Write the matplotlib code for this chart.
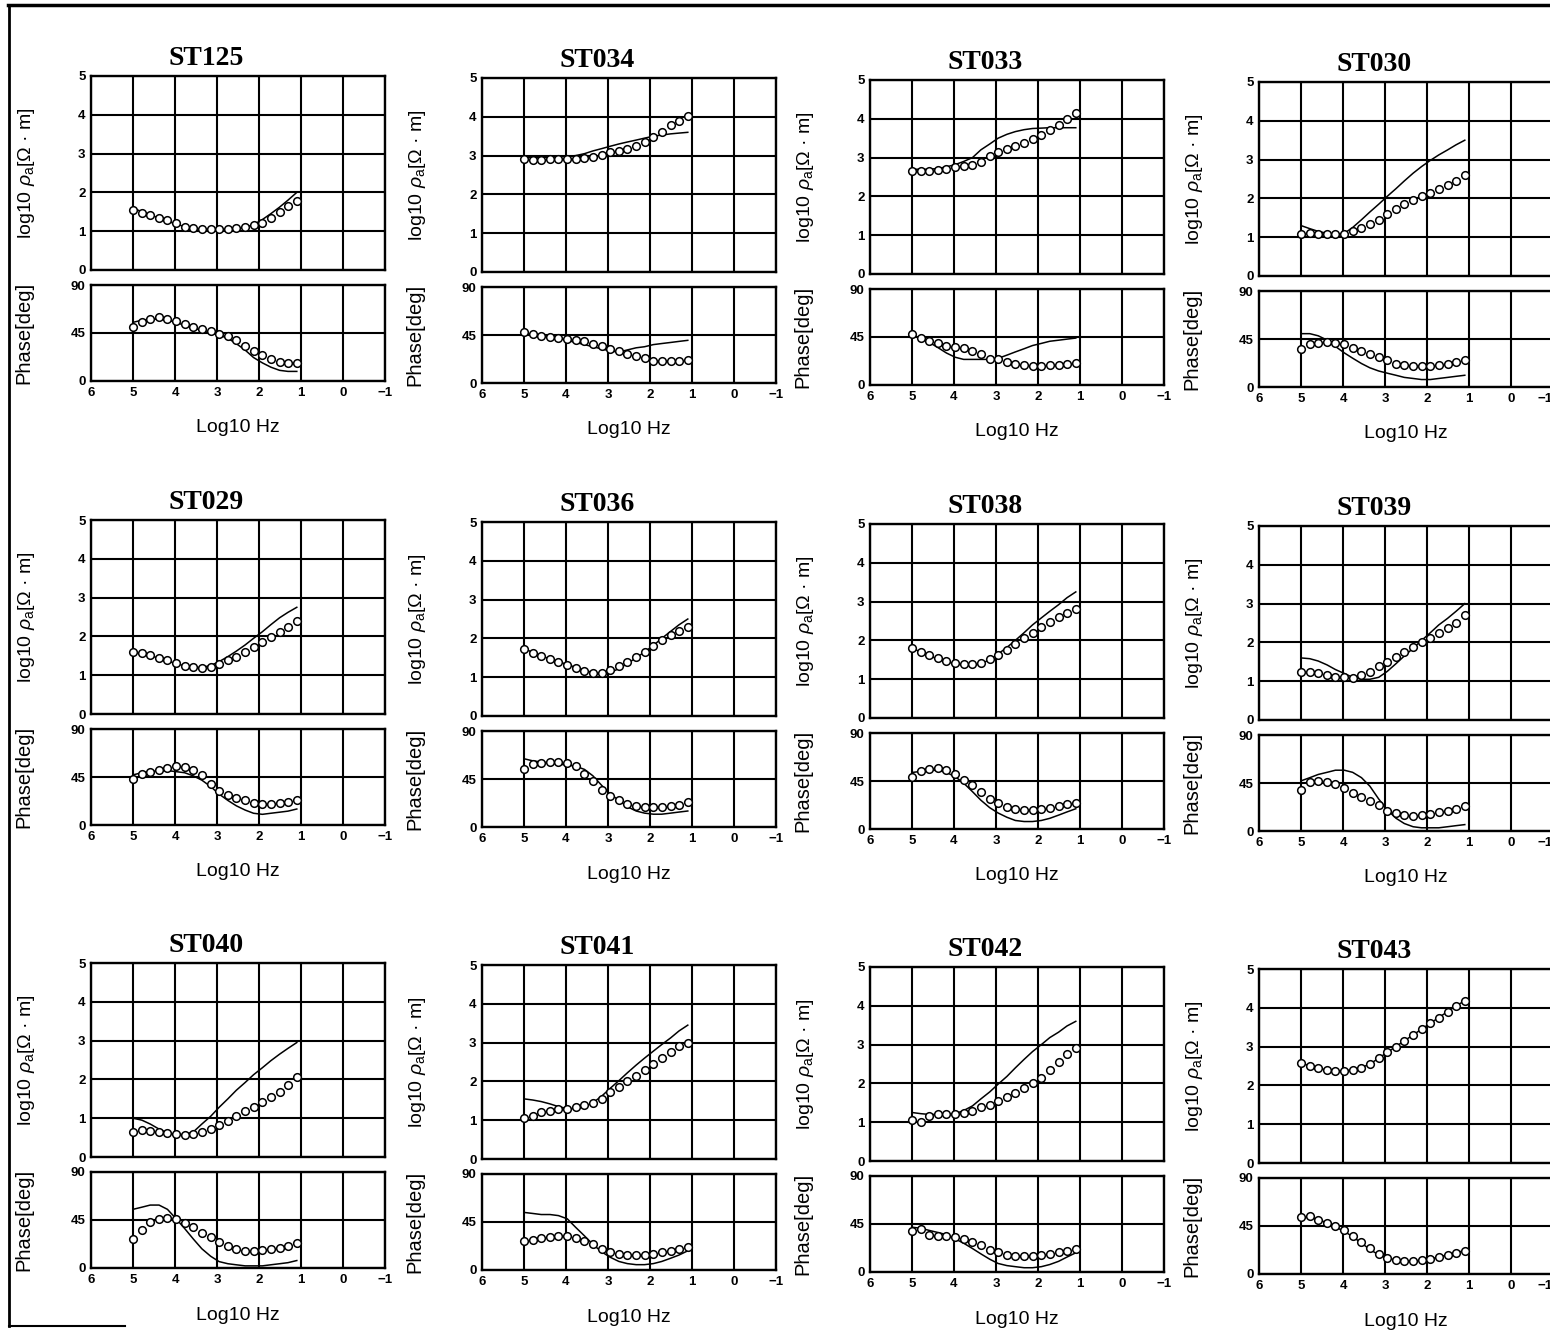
import matplotlib.pyplot as plt
from matplotlib.lines import Line2D

plt.rcParams['font.family'] = ['Liberation Sans', 'DejaVu Sans']
plt.rcParams['mathtext.fontset'] = 'custom'
plt.rcParams['mathtext.rm'] = 'Liberation Sans'
plt.rcParams['mathtext.it'] = 'Liberation Sans:italic'

# log10 frequency of each sounding point (Hz)
freq = [5.00, 4.79, 4.59, 4.38, 4.18, 3.97, 3.77, 3.56, 3.36, 3.15,
        2.95, 2.74, 2.54, 2.33, 2.13, 1.92, 1.72, 1.51, 1.31, 1.10]

stations = ['ST125', 'ST034', 'ST033', 'ST030',
            'ST029', 'ST036', 'ST038', 'ST039',
            'ST040', 'ST041', 'ST042', 'ST043']

# observed apparent resistivity, log10 ohm-m (circles)
rho_obs = [
    [1.55, 1.48, 1.42, 1.35, 1.28, 1.20, 1.12, 1.08, 1.06, 1.05, 1.05, 1.05, 1.07, 1.10, 1.15, 1.22, 1.35, 1.50, 1.65, 1.78],
    [2.90, 2.88, 2.88, 2.90, 2.90, 2.92, 2.92, 2.95, 2.97, 3.02, 3.08, 3.12, 3.18, 3.25, 3.35, 3.48, 3.62, 3.78, 3.90, 4.02],
    [2.65, 2.65, 2.65, 2.67, 2.70, 2.75, 2.78, 2.82, 2.88, 3.05, 3.15, 3.22, 3.30, 3.38, 3.48, 3.58, 3.70, 3.85, 4.00, 4.15],
    [1.08, 1.10, 1.08, 1.08, 1.08, 1.08, 1.15, 1.25, 1.35, 1.45, 1.60, 1.72, 1.85, 1.95, 2.05, 2.15, 2.25, 2.35, 2.45, 2.60],
    [1.60, 1.58, 1.52, 1.45, 1.38, 1.32, 1.25, 1.20, 1.18, 1.20, 1.28, 1.38, 1.48, 1.60, 1.72, 1.85, 1.98, 2.12, 2.25, 2.40],
    [1.72, 1.62, 1.55, 1.48, 1.40, 1.32, 1.25, 1.15, 1.10, 1.10, 1.18, 1.28, 1.40, 1.52, 1.65, 1.80, 1.95, 2.08, 2.20, 2.30],
    [1.80, 1.70, 1.62, 1.55, 1.48, 1.42, 1.38, 1.38, 1.42, 1.52, 1.62, 1.75, 1.90, 2.05, 2.20, 2.35, 2.48, 2.60, 2.70, 2.82],
    [1.25, 1.25, 1.20, 1.15, 1.12, 1.10, 1.08, 1.15, 1.25, 1.38, 1.50, 1.62, 1.75, 1.88, 2.00, 2.12, 2.25, 2.38, 2.50, 2.70],
    [0.65, 0.70, 0.68, 0.65, 0.62, 0.58, 0.57, 0.60, 0.65, 0.72, 0.82, 0.92, 1.05, 1.18, 1.30, 1.42, 1.55, 1.68, 1.85, 2.05],
    [1.05, 1.10, 1.20, 1.25, 1.30, 1.30, 1.35, 1.38, 1.45, 1.55, 1.72, 1.85, 2.02, 2.15, 2.30, 2.45, 2.60, 2.75, 2.90, 3.00],
    [1.05, 1.00, 1.15, 1.20, 1.22, 1.22, 1.25, 1.30, 1.38, 1.45, 1.55, 1.65, 1.75, 1.88, 2.00, 2.15, 2.35, 2.55, 2.75, 2.90],
    [2.58, 2.50, 2.45, 2.40, 2.38, 2.38, 2.40, 2.45, 2.55, 2.70, 2.85, 3.00, 3.15, 3.30, 3.45, 3.60, 3.75, 3.90, 4.05, 4.18],
]

# model response, log10 ohm-m (solid line)
rho_model = [
    [1.60, 1.50, 1.42, 1.34, 1.26, 1.18, 1.12, 1.08, 1.05, 1.03, 1.03, 1.04, 1.06, 1.10, 1.17, 1.30, 1.45, 1.62, 1.80, 2.00],
    [2.95, 2.95, 2.95, 2.96, 2.97, 2.98, 3.00, 3.05, 3.12, 3.18, 3.24, 3.30, 3.35, 3.40, 3.45, 3.50, 3.53, 3.56, 3.58, 3.60],
    [2.70, 2.70, 2.70, 2.72, 2.76, 2.82, 2.90, 3.00, 3.20, 3.35, 3.50, 3.60, 3.67, 3.72, 3.75, 3.76, 3.77, 3.77, 3.77, 3.77],
    [1.30, 1.22, 1.15, 1.10, 1.08, 1.10, 1.25, 1.45, 1.65, 1.85, 2.05, 2.25, 2.45, 2.65, 2.82, 2.98, 3.12, 3.25, 3.38, 3.50],
    [1.60, 1.55, 1.50, 1.44, 1.36, 1.30, 1.24, 1.20, 1.20, 1.25, 1.35, 1.48, 1.62, 1.78, 1.95, 2.12, 2.30, 2.48, 2.62, 2.75],
    [1.75, 1.63, 1.55, 1.47, 1.40, 1.33, 1.25, 1.18, 1.12, 1.08, 1.12, 1.22, 1.35, 1.50, 1.65, 1.82, 2.00, 2.18, 2.35, 2.50],
    [1.80, 1.70, 1.60, 1.52, 1.45, 1.40, 1.36, 1.35, 1.40, 1.50, 1.65, 1.82, 2.00, 2.20, 2.40, 2.58, 2.75, 2.92, 3.10, 3.25],
    [1.60, 1.58, 1.52, 1.42, 1.30, 1.20, 1.10, 1.05, 1.05, 1.10, 1.25, 1.45, 1.65, 1.85, 2.05, 2.25, 2.45, 2.62, 2.80, 3.00],
    [1.00, 0.95, 0.85, 0.72, 0.62, 0.58, 0.58, 0.65, 0.85, 1.05, 1.28, 1.50, 1.72, 1.92, 2.12, 2.30, 2.48, 2.65, 2.80, 2.95],
    [1.55, 1.52, 1.48, 1.42, 1.35, 1.30, 1.30, 1.35, 1.45, 1.62, 1.82, 2.02, 2.22, 2.42, 2.60, 2.78, 2.95, 3.12, 3.30, 3.45],
    [1.25, 1.22, 1.20, 1.20, 1.20, 1.22, 1.30, 1.42, 1.60, 1.78, 1.98, 2.18, 2.40, 2.62, 2.82, 3.00, 3.18, 3.32, 3.48, 3.60],
    [2.58, 2.50, 2.44, 2.40, 2.38, 2.38, 2.40, 2.46, 2.55, 2.70, 2.85, 3.00, 3.15, 3.30, 3.45, 3.60, 3.75, 3.90, 4.05, 4.18],
]

# observed phase, degrees (circles)
phase_obs = [
    [51, 55, 58, 60, 58, 56, 53, 51, 49, 47, 44, 42, 38, 33, 28, 24, 21, 18, 17, 17],
    [48, 46, 44, 43, 42, 41, 40, 39, 37, 35, 32, 30, 27, 25, 23, 21, 21, 21, 21, 22],
    [48, 44, 41, 39, 37, 36, 35, 32, 29, 24, 24, 22, 20, 19, 18, 18, 19, 19, 20, 21],
    [36, 40, 41, 42, 41, 40, 37, 34, 31, 28, 25, 22, 21, 20, 20, 20, 21, 22, 23, 25],
    [43, 48, 50, 52, 53, 55, 54, 52, 47, 38, 32, 28, 25, 23, 21, 20, 20, 21, 22, 23],
    [54, 59, 60, 61, 61, 60, 57, 50, 43, 35, 29, 25, 22, 20, 19, 19, 19, 20, 21, 23],
    [49, 54, 56, 57, 55, 52, 46, 41, 35, 28, 24, 21, 19, 18, 18, 19, 20, 22, 23, 24],
    [38, 46, 47, 46, 44, 40, 36, 32, 28, 24, 19, 17, 15, 14, 15, 16, 18, 19, 21, 23],
    [27, 36, 43, 46, 47, 46, 42, 38, 33, 29, 24, 21, 18, 16, 16, 17, 18, 19, 21, 23],
    [27, 28, 30, 31, 32, 32, 30, 27, 24, 20, 17, 15, 14, 14, 14, 15, 17, 18, 20, 22],
    [38, 40, 35, 34, 34, 33, 31, 28, 25, 21, 19, 16, 15, 15, 15, 16, 17, 19, 20, 22],
    [53, 54, 51, 48, 45, 41, 36, 30, 24, 19, 15, 13, 12, 12, 13, 14, 16, 18, 20, 22],
]

# model phase, degrees (solid line)
phase_model = [
    [55, 57, 58, 58, 57, 55, 52, 50, 47, 45, 43, 40, 35, 29, 22, 17, 13, 10, 9, 9],
    [47, 45, 44, 43, 42, 40, 38, 36, 34, 32, 30, 29, 31, 33, 34, 36, 37, 38, 39, 40],
    [46, 44, 40, 35, 30, 26, 24, 24, 24, 24, 25, 28, 31, 34, 37, 39, 41, 42, 43, 44],
    [50, 50, 48, 44, 38, 32, 27, 22, 18, 15, 13, 11, 9, 8, 7, 7, 8, 9, 10, 11],
    [47, 49, 50, 51, 51, 50, 49, 46, 42, 36, 29, 23, 18, 14, 11, 10, 11, 12, 13, 15],
    [64, 62, 61, 60, 59, 58, 57, 54, 48, 39, 31, 25, 19, 15, 13, 12, 12, 13, 14, 15],
    [53, 54, 55, 55, 53, 49, 43, 35, 27, 20, 15, 11, 8, 7, 7, 8, 10, 13, 16, 19],
    [47, 50, 53, 55, 57, 57, 55, 50, 42, 30, 20, 12, 7, 4, 3, 3, 3, 4, 5, 6],
    [55, 57, 59, 59, 55, 46, 37, 27, 18, 11, 6, 4, 3, 2, 2, 2, 3, 4, 5, 7],
    [54, 53, 52, 52, 51, 48, 40, 32, 24, 17, 12, 8, 6, 5, 5, 6, 8, 11, 14, 18],
    [42, 41, 39, 37, 35, 31, 27, 22, 17, 12, 8, 6, 5, 4, 4, 5, 7, 10, 14, 18],
    [53, 53, 51, 48, 44, 40, 35, 29, 23, 18, 15, 13, 12, 12, 13, 14, 16, 18, 20, 22],
]

xticks = [6, 5, 4, 3, 2, 1, 0, -1]
xticklabels = ['6', '5', '4', '3', '2', '1', '0', '\u22121']

# layout in pixels
W, H = 1550, 1331
col_left = [91, 482, 870, 1259]
col_dy = [0, 2, 4, 6]
row_top = [76, 520, 963]
aw, rh, gap, ph = 294, 194, 15, 96

fig = plt.figure(figsize=(W / 100, H / 100), dpi=100)


def add_ax(left, top, w, h):
    return fig.add_axes([left / W, 1 - (top + h) / H, w / W, h / H])


def style(ax):
    ax.set_xlim(6, -1)
    ax.set_xticks(xticks)
    ax.grid(True, color='black', lw=1.5)
    ax.set_axisbelow(True)
    ax.tick_params(length=0, pad=4, labelsize=9.5)
    for lab in ax.get_yticklabels() + ax.get_xticklabels():
        lab.set_fontweight('bold')
    for s in ax.spines.values():
        s.set_linewidth(1.7)


for i, name in enumerate(stations):
    r, c = divmod(i, 4)
    left = col_left[c]
    top = row_top[r] + col_dy[c]

    ax1 = add_ax(left, top, aw, rh)
    ax1.set_ylim(0, 5)
    ax1.set_yticks([0, 1, 2, 3, 4, 5])
    ax1.set_xticks(xticks)
    ax1.set_xticklabels([])
    ax1.plot(freq, rho_model[i], color='black', lw=1.1)
    ax1.plot(freq, rho_obs[i], 'o', mfc='white', mec='black', ms=5.5, mew=1.1)
    style(ax1)
    ax1.set_ylabel(r'log10 $\rho_{\rm a}$[Ω · m]', fontsize=14)
    ax1.yaxis.set_label_coords(-54 / aw, 0.5)
    ax1.text(3.25, 5.12, name, ha='center', va='bottom', fontsize=20,
             fontweight='bold', family='Liberation Serif')

    ax2 = add_ax(left, top + rh + gap, aw, ph)
    ax2.set_ylim(0, 90)
    ax2.set_yticks([0, 45, 90])
    ax2.plot(freq, phase_model[i], color='black', lw=1.1)
    ax2.plot(freq, phase_obs[i], 'o', mfc='white', mec='black', ms=5.5, mew=1.1)
    ax2.set_xticklabels(xticklabels)
    style(ax2)
    if c == 3:
        # the last column runs to the page edge; keep its end label inside
        ax2.get_xticklabels()[-1].set_horizontalalignment('right')
    ax2.set_ylabel('Phase[deg]', fontsize=14.5)
    ax2.yaxis.set_label_coords(-58 / aw, 0.5)
    ax2.text(0.5, -47 / ph, 'Log10 Hz', transform=ax2.transAxes,
             ha='center', va='center', fontsize=14)

# page frame from the scan
fig.add_artist(Line2D([8 / W, 1.0], [1 - 5 / H, 1 - 5 / H], color='black', lw=2.5))
fig.add_artist(Line2D([9 / W, 9 / W], [1 - 5 / H, 1 - 1326 / H], color='black', lw=2))
fig.add_artist(Line2D([9 / W, 125 / W], [1 - 1326 / H, 1 - 1326 / H], color='black', lw=1.5))

plt.savefig('out.png', dpi=100)
